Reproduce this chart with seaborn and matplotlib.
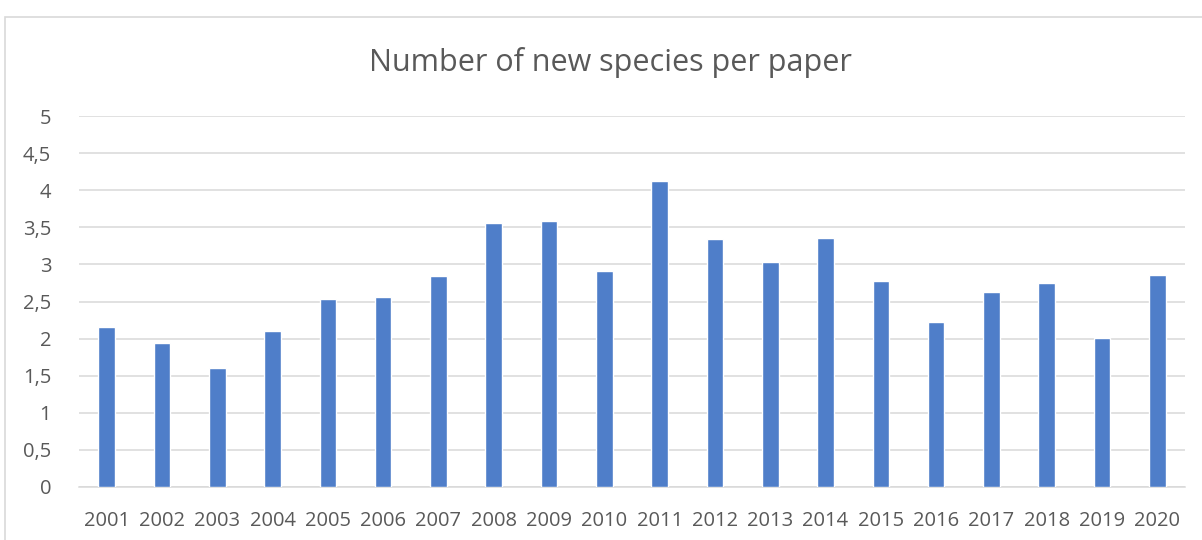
import matplotlib
matplotlib.use("Agg")
import matplotlib.pyplot as plt
from matplotlib.patches import Rectangle
import seaborn as sns
import pandas as pd

years = [str(y) for y in range(2001, 2021)]
species_per_paper = [2.16, 1.94, 1.61, 2.10, 2.53, 2.56, 2.84, 3.56, 3.58, 2.91,
                     4.13, 3.34, 3.03, 3.36, 2.77, 2.23, 2.63, 2.75, 2.01, 2.86]
y_ticks = [0, 0.5, 1, 1.5, 2, 2.5, 3, 3.5, 4, 4.5, 5]
y_tick_labels = ["0", "0,5", "1", "1,5", "2", "2,5", "3", "3,5", "4", "4,5", "5"]
title = "Number of new species per paper"

sns.set_theme(style="white")
plt.rcParams["font.family"] = ["Open Sans", "DejaVu Sans"]

text_color = "#595959"
grid_color = "#d9d9d9"
bar_color = "#4f7ec9"

fig = plt.figure(figsize=(12.02, 5.40), dpi=100)
fig.patch.set_facecolor("white")

# chart-area frame
fig.patches.append(Rectangle((5 / 1202, -0.05), 1.2, 1 - 17 / 540 + 0.05,
                             transform=fig.transFigure, fill=False,
                             edgecolor=grid_color, linewidth=1.2))

ax = fig.add_axes([79 / 1202, 1 - 487 / 540, (1185 - 79) / 1202, (487 - 116) / 540])
df = pd.DataFrame({"year": years, "value": species_per_paper})
sns.barplot(data=df, x="year", y="value", color=bar_color, saturation=1,
            width=0.3, ax=ax, zorder=3)

ax.set_ylim(0, 5)
ax.set_xlim(-0.5, len(years) - 0.5)
ax.set_yticks(y_ticks)
ax.set_yticklabels(y_tick_labels)
ax.yaxis.grid(True, color=grid_color, linewidth=1.1, zorder=0)
ax.set_axisbelow(True)
for side in ["top", "right", "left"]:
    ax.spines[side].set_visible(False)
ax.spines["bottom"].set_color(grid_color)
ax.spines["bottom"].set_linewidth(1.1)
ax.tick_params(axis="both", length=0, colors=text_color, labelsize=14.5)
ax.tick_params(axis="y", pad=20)
ax.tick_params(axis="x", pad=17)
for lbl in ax.get_yticklabels():
    lbl.set_horizontalalignment("right")
ax.set_xlabel("")
ax.set_ylabel("")

fig.text(0.508, 1 - 63 / 540, title, ha="center", va="center",
         fontsize=22, color=text_color)

fig.savefig("out.png", dpi=100, facecolor="white")
